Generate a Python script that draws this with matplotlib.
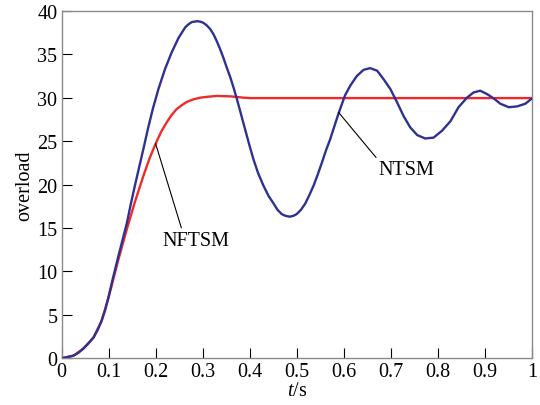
import matplotlib
matplotlib.use("Agg")
import matplotlib.pyplot as plt

plt.rcParams['font.family'] = ['Liberation Serif', 'DejaVu Serif']
plt.rcParams['mathtext.fontset'] = 'custom'
plt.rcParams['mathtext.it'] = 'Liberation Serif:italic'
plt.rcParams['mathtext.rm'] = 'Liberation Serif'

# values
t_ntsm = [0.0, 0.025, 0.035, 0.046, 0.057, 0.068, 0.077, 0.085, 0.093, 0.1,
          0.11, 0.121, 0.13, 0.139, 0.147, 0.156, 0.165, 0.174, 0.184, 0.194,
          0.206, 0.22, 0.234, 0.249, 0.256, 0.263, 0.27, 0.277, 0.288, 0.295,
          0.302, 0.309, 0.316, 0.323, 0.33, 0.337, 0.344, 0.351, 0.359, 0.366,
          0.373, 0.381, 0.39, 0.399, 0.408, 0.418, 0.429, 0.44, 0.451, 0.459,
          0.468, 0.476, 0.485, 0.493, 0.5, 0.509, 0.518, 0.527, 0.536, 0.545,
          0.554, 0.562, 0.571, 0.58, 0.589, 0.603, 0.614, 0.628, 0.642, 0.656,
          0.671, 0.685, 0.699, 0.713, 0.727, 0.741, 0.756, 0.773, 0.791, 0.809,
          0.827, 0.844, 0.862, 0.876, 0.89, 0.905, 0.919, 0.933, 0.951, 0.969,
          0.986, 1.0]
v_ntsm = [0.0, 0.3, 0.6, 1.1, 1.7, 2.4, 3.3, 4.3, 5.6, 7.1,
          9.4, 11.8, 13.7, 15.6, 17.7, 19.9, 22.0, 24.1, 26.5, 28.7,
          31.0, 33.3, 35.2, 36.9, 37.5, 38.1, 38.45, 38.7, 38.8, 38.75,
          38.6, 38.3, 37.9, 37.3, 36.5, 35.6, 34.6, 33.5, 32.3, 31.1,
          29.8, 28.2, 26.4, 24.6, 22.9, 21.3, 19.9, 18.7, 17.8, 17.1,
          16.6, 16.4, 16.3, 16.4, 16.6, 17.1, 17.8, 18.8, 19.9, 21.2,
          22.6, 23.9, 25.2, 26.7, 28.2, 30.3, 31.4, 32.5, 33.2, 33.4,
          33.1, 32.1, 31.0, 29.5, 27.9, 26.6, 25.7, 25.3, 25.4, 26.2,
          27.3, 28.9, 30.0, 30.6, 30.8, 30.4, 29.9, 29.3, 28.9, 29.0,
          29.3, 29.9]

t_nftsm = [0.0, 0.025, 0.046, 0.068, 0.085, 0.1, 0.121, 0.139, 0.156, 0.174,
           0.187, 0.2, 0.212, 0.224, 0.234, 0.245, 0.256, 0.266, 0.28, 0.295,
           0.31, 0.33, 0.359, 0.387, 0.401, 0.5, 0.6, 0.7, 0.8, 0.9, 1.0]
v_nftsm = [0.0, 0.3, 1.1, 2.4, 4.3, 7.0, 11.4, 14.9, 18.0, 21.0,
           23.0, 24.7, 26.1, 27.2, 28.0, 28.7, 29.15, 29.5, 29.8, 30.0,
           30.1, 30.2, 30.15, 30.0, 29.95, 29.95, 29.95, 29.95, 29.95, 29.95, 29.95]

x_ticks = [0, 0.1, 0.2, 0.3, 0.4, 0.5, 0.6, 0.7, 0.8, 0.9, 1.0]
x_labels = ['0', '0.1', '0.2', '0.3', '0.4', '0.5', '0.6', '0.7', '0.8', '0.9', '1']
y_ticks = [0, 5, 10, 15, 20, 25, 30, 35, 40]

fig = plt.figure(figsize=(5.4, 4.06), dpi=100)
ax = fig.add_axes([0.114, 0.115, 0.871, 0.856])

ax.plot(t_nftsm, v_nftsm, color='#ee2a2a', lw=1.7, zorder=2)
ax.plot(t_ntsm, v_ntsm, color='#2e3192', lw=1.7, zorder=3)

ax.annotate('NFTSM', xy=(0.2, 24.7), xytext=(0.285, 13.6), fontsize=14.5,
            ha='center', va='center',
            arrowprops=dict(arrowstyle='-', color='black', lw=0.8,
                            shrinkA=0, shrinkB=0, relpos=(0.3, 1.0)))
ax.annotate('NTSM', xy=(0.589, 28.3), xytext=(0.733, 21.7), fontsize=14.5,
            ha='center', va='center',
            arrowprops=dict(arrowstyle='-', color='black', lw=0.8,
                            shrinkA=0, shrinkB=0, relpos=(0.0, 1.0)))

ax.set_xlim(0, 1)
ax.set_ylim(0, 40)
ax.set_xticks(x_ticks)
ax.set_xticklabels(x_labels)
ax.set_yticks(y_ticks)
ax.tick_params(direction='in', length=7, width=0.8, labelsize=14.5, pad=3)
for s in ax.spines.values():
    s.set_color('#8a8a8a')
    s.set_linewidth(1.0)

ax.set_xlabel('$t$/s', fontsize=14.5, labelpad=0)
ax.set_ylabel('overload', fontsize=14.5, labelpad=2)

fig.savefig('out.png', dpi=100)
